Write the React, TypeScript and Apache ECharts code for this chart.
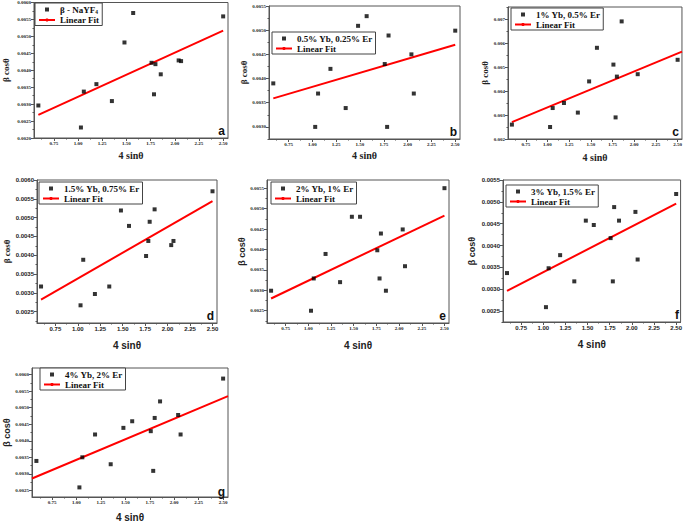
import React, { useEffect, useRef } from "react";
import * as echarts from "echarts";

// shared abscissa (4 sinθ) of the diffraction peaks
const xSin = [0.59, 1.03, 1.06, 1.19, 1.35, 1.48, 1.57, 1.76, 1.785, 1.8, 1.855, 2.04, 2.065, 2.5];

const seriesNames = [
  "β - NaYF4",
  "0.5% Yb, 0.25% Er",
  "1% Yb, 0.5% Er",
  "1.5% Yb, 0.75% Er",
  "2% Yb, 1% Er",
  "3% Yb, 1.5% Er",
  "4% Yb, 2% Er",
];
const panelLetters = ["a", "b", "c", "d", "e", "f", "g"];

// β cosθ values per sample
const yA = [0.00296, 0.00231, 0.00337, 0.00359, 0.00309, 0.00482, 0.00569, 0.00422, 0.00329, 0.00418, 0.00388, 0.00429, 0.00427, 0.00559];
const yB = [0.0039, 0.003, 0.00369, 0.0042, 0.00339, 0.00509, 0.00529, 0.0043, 0.003, 0.00489, null, 0.0045, 0.00369, 0.00499];
const yC = [0.0026, 0.0025, 0.00329, 0.0035, 0.0031, 0.0044, 0.0058, 0.0051, 0.0029, 0.0046, 0.0069, 0.0047, null, 0.0053];
const yD = [0.00317, 0.00267, 0.00388, 0.00297, 0.00317, 0.00519, 0.00478, 0.00398, 0.00438, 0.00489, 0.00522, 0.00427, 0.00438, 0.0057];
const yE = [0.00299, 0.0025, 0.00329, 0.00389, 0.0032, 0.0048, 0.0048, 0.00398, 0.00329, 0.00439, 0.00299, 0.00449, 0.00359, 0.0055];
const yF = [0.00337, 0.00259, 0.00348, 0.00378, 0.00318, 0.00457, 0.00447, 0.00417, 0.00318, 0.00488, 0.00457, 0.00477, 0.00368, 0.00518];
const yG = [0.00339, 0.00259, 0.0035, 0.00419, 0.00329, 0.00439, 0.00459, 0.00429, 0.00309, 0.00469, 0.00519, 0.00478, 0.00419, 0.00588];
const yData = [yA, yB, yC, yD, yE, yF, yG];

// linear-fit end points
const fitXA = [0.59, 2.5];
const fitYA = [0.00268, 0.00517];
const fitXB = [0.59, 2.5];
const fitYB = [0.00359, 0.0047];
const fitXC = [0.59, 2.55];
const fitYC = [0.0027, 0.00564];
const fitXD = [0.59, 2.5];
const fitYD = [0.00282, 0.00544];
const fitXE = [0.59, 2.5];
const fitYE = [0.0028, 0.00483];
const fitXF = [0.59, 2.5];
const fitYF = [0.00296, 0.00496];
const fitXG = [0.545, 2.55];
const fitYG = [0.00286, 0.00535];
const fitX = [fitXA, fitXB, fitXC, fitXD, fitXE, fitXF, fitXG];
const fitY = [fitYA, fitYB, fitYC, fitYD, fitYE, fitYF, fitYG];

// tick labels
const xTicks = [0.75, 1.0, 1.25, 1.5, 1.75, 2.0, 2.25, 2.5];
const yTicksA = [0.002, 0.0025, 0.003, 0.0035, 0.004, 0.0045, 0.005, 0.0055, 0.006];
const yTicksB = [0.003, 0.0035, 0.004, 0.0045, 0.005, 0.0055];
const yTicksC = [0.002, 0.003, 0.004, 0.005, 0.006, 0.007];
const yTicksD = [0.0025, 0.003, 0.0035, 0.004, 0.0045, 0.005, 0.0055, 0.006];
const yTicksE = [0.0025, 0.003, 0.0035, 0.004, 0.0045, 0.005, 0.0055];
const yTicksF = [0.0025, 0.003, 0.0035, 0.004, 0.0045, 0.005, 0.0055];
const yTicksG = [0.0025, 0.003, 0.0035, 0.004, 0.0045, 0.005, 0.0055, 0.006];
const yTicks = [yTicksA, yTicksB, yTicksC, yTicksD, yTicksE, yTicksF, yTicksG];
const yDecimals = [4, 4, 3, 4, 4, 4, 4];

const xRange = [0.545, 2.55];
const yRanges = [
  [0.002, 0.006],
  [0.00275, 0.0055],
  [0.002, 0.0075],
  [0.0022, 0.006],
  [0.0022, 0.0057],
  [0.00225, 0.0055],
  [0.0023, 0.0062],
];

const SERIF = "'Liberation Serif', 'Times New Roman', serif";
const SANS = "'Liberation Sans', Arial, sans-serif";

// layout of the panels (pixels)
const layout = [
  { l: 33, t: 2, w: 195, h: 136, lgL: 35, lgT: 3, xGap: 12, yGap: 24, tickFont: SERIF, tickSize: 5, nameFont: SERIF, nameFontX: SERIF },
  { l: 269, t: 6, w: 191, h: 133, lgL: 272, lgT: 32, xGap: 11, yGap: 21, tickFont: SERIF, tickSize: 5, nameFont: SERIF, nameFontX: SERIF },
  { l: 508, t: 7, w: 174, h: 132, lgL: 511, lgT: 8, xGap: 13, yGap: 18, tickFont: SERIF, tickSize: 5, nameFont: SERIF, nameFontX: SERIF },
  { l: 37, t: 180, w: 180, h: 143, lgL: 39, lgT: 182, xGap: 17, yGap: 26, tickFont: SANS, tickSize: 6, nameFont: SERIF, nameFontX: SANS },
  { l: 267, t: 180, w: 182, h: 143, lgL: 271, lgT: 182, xGap: 17, yGap: 19, tickFont: SERIF, tickSize: 5, nameFont: SANS, nameFontX: SANS },
  { l: 503, t: 180, w: 179, h: 142, lgL: 506, lgT: 185, xGap: 17, yGap: 27, tickFont: SANS, tickSize: 6, nameFont: SANS, nameFontX: SANS },
  { l: 32, t: 368, w: 196, h: 131, lgL: 40, lgT: 368, xGap: 15, yGap: 21, tickFont: SERIF, tickSize: 5, nameFont: SANS, nameFontX: SANS },
];

const mids = (arr: number[], lo: number, hi: number) => {
  const step = arr[1] - arr[0];
  const out: number[] = [];
  const first = arr[0] - step / 2;
  for (let v = first; v <= hi + 1e-12; v += step) {
    if (v >= lo - 1e-12) out.push(+v.toFixed(8));
  }
  return out;
};

function buildOption() {
  const grid: any[] = [];
  const xAxis: any[] = [];
  const yAxis: any[] = [];
  const series: any[] = [];
  const legend: any[] = [];
  const graphic: any[] = [];

  layout.forEach((p, i) => {
    grid.push({
      left: p.l,
      top: p.t,
      width: p.w,
      height: p.h,
      show: true,
      borderColor: "#555",
      borderWidth: 1,
      backgroundColor: "transparent",
    });
    const [yMin, yMax] = yRanges[i];
    const axisColor = "#555";
    // main x axis
    xAxis.push({
      type: "value",
      gridIndex: i,
      min: xRange[0],
      max: xRange[1],
      position: "bottom",
      name: "4 sinθ",
      nameLocation: "middle",
      nameGap: p.xGap,
      nameTextStyle: { fontFamily: p.nameFontX, fontWeight: "bold", fontSize: 10, color: "#222" },
      splitLine: { show: false },
      axisLine: { show: true, lineStyle: { color: axisColor, width: 1 } },
      axisTick: { show: true, customValues: xTicks, length: 3, inside: false, lineStyle: { color: axisColor } },
      axisLabel: {
        customValues: xTicks,
        formatter: (v: number) => v.toFixed(2),
        fontFamily: p.tickFont,
        fontSize: p.tickSize,
        fontWeight: "bold",
        color: "#222",
        margin: 3,
      },
    });
    // minor x ticks
    xAxis.push({
      type: "value",
      gridIndex: i,
      min: xRange[0],
      max: xRange[1],
      position: "bottom",
      splitLine: { show: false },
      axisLine: { show: false },
      axisTick: { show: true, customValues: mids(xTicks, xRange[0], xRange[1]), length: 1.5, lineStyle: { color: axisColor } },
      axisLabel: { show: false },
    });
    // main y axis
    yAxis.push({
      type: "value",
      gridIndex: i,
      min: yMin,
      max: yMax,
      position: "left",
      name: "β cosθ",
      nameLocation: "middle",
      nameGap: p.yGap,
      nameRotate: 90,
      nameTextStyle: { fontFamily: p.nameFont, fontWeight: "bold", fontSize: 9, color: "#222" },
      splitLine: { show: false },
      axisLine: { show: true, lineStyle: { color: axisColor, width: 1 } },
      axisTick: { show: true, customValues: yTicks[i], length: 3, lineStyle: { color: axisColor } },
      axisLabel: {
        customValues: yTicks[i],
        formatter: (v: number) => v.toFixed(yDecimals[i]),
        fontFamily: p.tickFont,
        fontSize: p.tickSize,
        fontWeight: "bold",
        color: "#222",
        margin: 3,
      },
    });
    yAxis.push({
      type: "value",
      gridIndex: i,
      min: yMin,
      max: yMax,
      position: "left",
      splitLine: { show: false },
      axisLine: { show: false },
      axisTick: { show: true, customValues: mids(yTicks[i], yMin, yMax), length: 1.5, lineStyle: { color: axisColor } },
      axisLabel: { show: false },
    });

    series.push({
      type: "scatter",
      name: seriesNames[i],
      xAxisIndex: i * 2,
      yAxisIndex: i * 2,
      symbol: "rect",
      symbolSize: 4,
      itemStyle: { color: "#000" },
      data: xSin.map((x, k) => (yData[i][k] == null ? null : [x, yData[i][k]])).filter((d) => d !== null),
      z: 3,
    });
    series.push({
      type: "line",
      name: "Linear Fit",
      xAxisIndex: i * 2,
      yAxisIndex: i * 2,
      symbol: "none",
      lineStyle: { color: "#ff0000", width: 2 },
      itemStyle: { color: "#ff0000" },
      data: fitX[i].map((x, k) => [x, fitY[i][k]]),
      z: 2,
    });

    legend.push({
      left: p.lgL,
      top: p.lgT,
      orient: "vertical",
      backgroundColor: "#fff",
      borderColor: "#444",
      borderWidth: 1,
      borderRadius: 0,
      padding: [2, 3, 1, 3],
      itemGap: 1,
      itemWidth: 16,
      itemHeight: 4,
      symbolKeepAspect: true,
      selectedMode: false,
      data: [
        { name: seriesNames[i], icon: "path://M0,0L10,0L10,10L0,10Z", itemStyle: { color: "#000" } },
        { name: "Linear Fit" },
      ],
      formatter: (name: string) =>
        name === "β - NaYF4" ? "{t|β - NaYF}{s|4}" : "{t|" + name + "}",
      textStyle: {
        fontFamily: SERIF,
        fontWeight: "bold",
        fontSize: 9,
        color: "#111",
        rich: {
          t: { fontFamily: SERIF, fontWeight: "bold", fontSize: 9, color: "#111" },
          s: { fontFamily: SERIF, fontWeight: "bold", fontSize: 5.5, color: "#111", verticalAlign: "bottom", padding: [4, 0, 0, 0] },
        },
      },
    });

    graphic.push({
      type: "text",
      x: p.l + p.w - 3,
      y: p.t + p.h - 1,
      style: {
        text: panelLetters[i],
        fontFamily: SANS,
        fontWeight: "bold",
        fontSize: 12,
        fill: "#111",
        align: "right",
        verticalAlign: "bottom",
      },
      z: 10,
    });
  });

  return {
    animation: false,
    backgroundColor: "#fff",
    grid,
    xAxis,
    yAxis,
    series,
    legend,
    graphic,
  };
}

export default function App() {
  const ref = useRef<HTMLDivElement>(null);
  useEffect(() => {
    if (!ref.current) return;
    const chart = echarts.init(ref.current, undefined, { renderer: "svg" });
    chart.setOption(buildOption() as any);
    return () => chart.dispose();
  }, []);
  return (
    <div
      ref={ref}
      style={{ position: "absolute", left: 0, top: 0, width: 685, height: 523, background: "#fff" }}
    />
  );
}
